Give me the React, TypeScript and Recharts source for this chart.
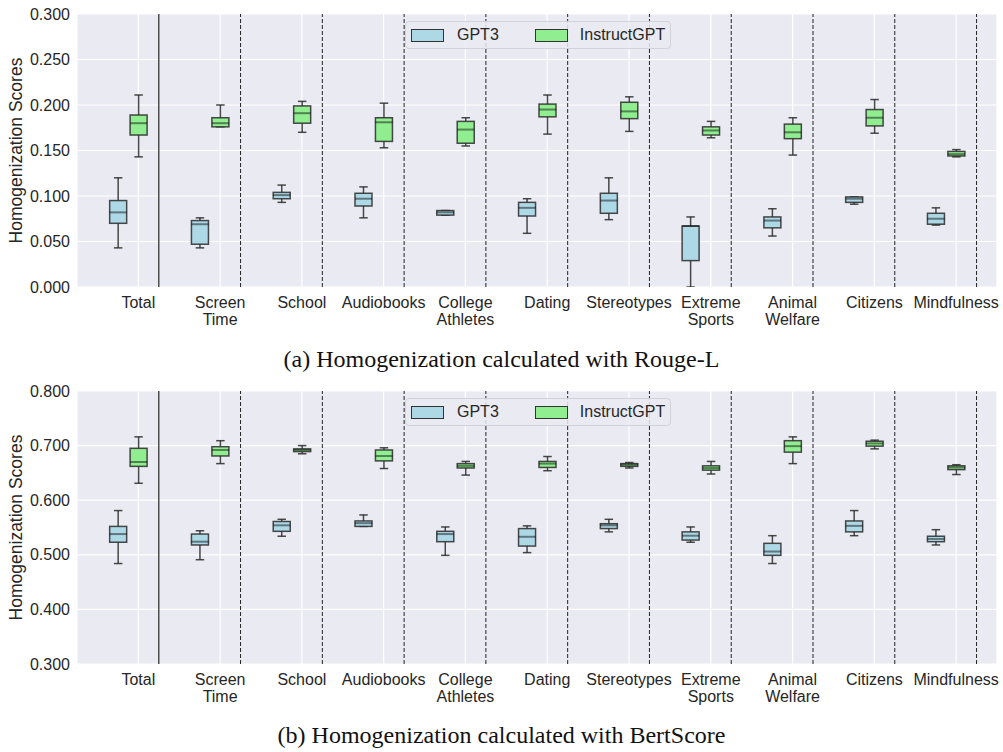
import React from 'react';
import {
  ComposedChart,
  Bar,
  XAxis,
  YAxis,
  CartesianGrid,
  ReferenceLine,
  Legend,
  Label,
} from 'recharts';

const categories = [
  'Total', 'Screen\nTime', 'School', 'Audiobooks', 'College\nAthletes', 'Dating',
  'Stereotypes', 'Extreme\nSports', 'Animal\nWelfare', 'Citizens', 'Mindfulness',
];

// each entry: [min, q1, median, q3, max]
const rougeGpt3 = [
  [0.043, 0.070, 0.082, 0.095, 0.120],
  [0.043, 0.047, 0.069, 0.073, 0.076],
  [0.093, 0.097, 0.101, 0.104, 0.112],
  [0.076, 0.089, 0.097, 0.103, 0.110],
  [0.079, 0.079, 0.082, 0.084, 0.084],
  [0.059, 0.078, 0.087, 0.093, 0.097],
  [0.074, 0.081, 0.095, 0.103, 0.120],
  [0.000, 0.029, 0.067, 0.067, 0.077],
  [0.056, 0.065, 0.073, 0.077, 0.086],
  [0.091, 0.093, 0.097, 0.099, 0.099],
  [0.068, 0.069, 0.075, 0.081, 0.087],
];

const rougeInstruct = [
  [0.143, 0.167, 0.180, 0.189, 0.211],
  [0.176, 0.176, 0.180, 0.186, 0.200],
  [0.170, 0.180, 0.191, 0.199, 0.204],
  [0.153, 0.160, 0.181, 0.186, 0.202],
  [0.155, 0.158, 0.173, 0.182, 0.186],
  [0.168, 0.187, 0.195, 0.201, 0.211],
  [0.171, 0.185, 0.193, 0.203, 0.209],
  [0.164, 0.167, 0.172, 0.176, 0.182],
  [0.145, 0.163, 0.170, 0.179, 0.186],
  [0.169, 0.177, 0.186, 0.195, 0.206],
  [0.143, 0.144, 0.146, 0.149, 0.151],
];

const bertGpt3 = [
  [0.484, 0.523, 0.538, 0.552, 0.581],
  [0.491, 0.518, 0.524, 0.538, 0.544],
  [0.534, 0.543, 0.554, 0.561, 0.565],
  [0.552, 0.552, 0.558, 0.562, 0.573],
  [0.499, 0.524, 0.538, 0.543, 0.551],
  [0.504, 0.516, 0.533, 0.548, 0.553],
  [0.542, 0.548, 0.554, 0.557, 0.565],
  [0.523, 0.527, 0.535, 0.542, 0.551],
  [0.484, 0.499, 0.506, 0.521, 0.535],
  [0.535, 0.542, 0.553, 0.562, 0.581],
  [0.518, 0.524, 0.529, 0.534, 0.546],
];

const bertInstruct = [
  [0.631, 0.662, 0.670, 0.695, 0.716],
  [0.667, 0.681, 0.692, 0.698, 0.709],
  [0.685, 0.689, 0.692, 0.694, 0.700],
  [0.658, 0.672, 0.681, 0.692, 0.696],
  [0.646, 0.659, 0.663, 0.667, 0.671],
  [0.654, 0.660, 0.667, 0.671, 0.680],
  [0.659, 0.662, 0.665, 0.667, 0.669],
  [0.648, 0.655, 0.659, 0.663, 0.671],
  [0.667, 0.688, 0.699, 0.709, 0.716],
  [0.694, 0.699, 0.704, 0.708, 0.710],
  [0.647, 0.656, 0.660, 0.663, 0.665],
];

const rougeTicks = [0, 0.05, 0.1, 0.15, 0.2, 0.25, 0.3];
const bertTicks = [0.3, 0.4, 0.5, 0.6, 0.7, 0.8];

const GPT3_FILL = '#ADD8E6';
const INSTRUCT_FILL = '#90EE90';
const FONT = '"Liberation Sans", Arial, sans-serif';
const TEXT = '#262626';

const xTicks = categories.map((_, i) => i * 4);
const dividers = categories.map((_, i) => i * 4 + 1);

function buildRows(gpt3: number[][], instruct: number[][]) {
  const rows: any[] = [];
  categories.forEach((_, i) => {
    rows.push({ x: i * 4 - 1, s: 'GPT3', v: gpt3[i] });
    rows.push({ x: i * 4, s: 'InstructGPT', v: instruct[i] });
  });
  return rows;
}

const BoxShape = (props: any) => {
  const { x, y, width, height, payload } = props;
  const [mn, q1, md, q3, mx] = payload.v;
  const py = (val: number) => y + ((mx - val) / (mx - mn)) * height;
  const cx = x + width / 2;
  const fill = payload.s === 'GPT3' ? GPT3_FILL : INSTRUCT_FILL;
  const line = { stroke: '#2a2a2a', strokeWidth: 1.5, strokeOpacity: 0.85 };
  const cap = width / 4;
  return (
    <g>
      <line x1={cx} x2={cx} y1={py(mx)} y2={py(q3)} {...line} />
      <line x1={cx} x2={cx} y1={py(q1)} y2={py(mn)} {...line} />
      <line x1={cx - cap} x2={cx + cap} y1={py(mx)} y2={py(mx)} {...line} />
      <line x1={cx - cap} x2={cx + cap} y1={py(mn)} y2={py(mn)} {...line} />
      <rect x={x} y={py(q3)} width={width} height={Math.max(py(q1) - py(q3), 0.5)} fill={fill} {...line} />
      <line x1={x} x2={x + width} y1={py(md)} y2={py(md)} stroke="#000" strokeOpacity={0.45} strokeWidth={2} />
    </g>
  );
};

const XTick = (props: any) => {
  const { x, y, payload } = props;
  const idx = Math.round(payload.value / 4);
  const lines = (categories[idx] || '').split('\n');
  return (
    <text x={x} y={y} textAnchor="middle" fontSize={16} fontFamily={FONT} fill={TEXT}>
      {lines.map((l, i) => (
        <tspan key={i} x={x} dy={i === 0 ? 21 : 17}>{l}</tspan>
      ))}
    </text>
  );
};

const LegendBox = () => (
  <div
    style={{
      display: 'flex',
      alignItems: 'center',
      width: 266,
      height: 28,
      boxSizing: 'border-box',
      background: 'rgba(234,234,242,0.85)',
      border: '1px solid #d2d2d8',
      borderRadius: 4,
      fontFamily: FONT,
      fontSize: 16,
      color: TEXT,
    }}
  >
    <span style={{ display: 'inline-block', width: 33, height: 13, background: GPT3_FILL, border: '1px solid #333', marginLeft: 5, boxSizing: 'border-box' }} />
    <span style={{ marginLeft: 13 }}>GPT3</span>
    <span style={{ display: 'inline-block', width: 33, height: 13, background: INSTRUCT_FILL, border: '1px solid #333', marginLeft: 36, boxSizing: 'border-box' }} />
    <span style={{ marginLeft: 12 }}>InstructGPT</span>
  </div>
);

function Panel({ gpt3, instruct, ticks }: { gpt3: number[][]; instruct: number[][]; ticks: number[] }) {
  const data = buildRows(gpt3, instruct);
  return (
    <ComposedChart width={1003} height={330} data={data} margin={{ top: 14, right: 6, left: 0, bottom: 0 }}>
      <CartesianGrid fill="#EAEAF2" stroke="#ffffff" strokeWidth={1.2} />
      <XAxis
        type="number"
        dataKey="x"
        domain={[-3, 42]}
        ticks={xTicks}
        interval={0}
        allowDataOverflow
        axisLine={false}
        tickLine={false}
        tickSize={0}
        tickMargin={0}
        height={43}
        tick={<XTick />}
      />
      <YAxis
        type="number"
        domain={[ticks[0], ticks[ticks.length - 1]]}
        ticks={ticks}
        interval={0}
        allowDataOverflow
        axisLine={false}
        tickLine={false}
        tickSize={0}
        tickMargin={7}
        width={77}
        tickFormatter={(v: number) => v.toFixed(3)}
        tick={{ fontSize: 16, fontFamily: FONT, fill: TEXT }}
      >
        <Label
          content={(p: any) => {
            const vb = p.viewBox || {};
            const cy = vb.y + vb.height / 2;
            return (
              <text x={22} y={cy} transform={`rotate(-90, 22, ${cy})`} textAnchor="middle" fontSize={17.5} fontFamily={FONT} fill={TEXT}>
                Homogenization Scores
              </text>
            );
          }}
        />
      </YAxis>
      {dividers.map((d, i) => (
        <ReferenceLine
          key={d}
          x={d}
          stroke={i === 0 ? '#444' : '#222'}
          strokeWidth={i === 0 ? 1.4 : 1}
          strokeDasharray={i === 0 ? undefined : '4 2'}
        />
      ))}
      <Bar
        dataKey={(d: any) => [d.v[0], d.v[4]]}
        barSize={17}
        shape={<BoxShape />}
        isAnimationActive={false}
      />
      <Legend
        layout="horizontal"
        verticalAlign="middle"
        align="center"
        content={() => <LegendBox />}
        wrapperStyle={{ left: 405, top: 21, width: 'auto' }}
      />
    </ComposedChart>
  );
}

const captionStyle: React.CSSProperties = {
  position: 'absolute',
  left: 0,
  width: 1003,
  textAlign: 'center',
  fontFamily: '"Liberation Serif", "Times New Roman", serif',
  fontSize: 24,
  lineHeight: '26px',
  color: '#111',
};

export default function App() {
  return (
    <div style={{ position: 'absolute', left: 0, top: 0, width: 1003, height: 752, background: '#fff' }}>
      <div style={{ position: 'absolute', left: 0, top: 0 }}>
        <Panel gpt3={rougeGpt3} instruct={rougeInstruct} ticks={rougeTicks} />
      </div>
      <div style={{ ...captionStyle, top: 346 }}>(a) Homogenization calculated with Rouge-L</div>
      <div style={{ position: 'absolute', left: 0, top: 377 }}>
        <Panel gpt3={bertGpt3} instruct={bertInstruct} ticks={bertTicks} />
      </div>
      <div style={{ ...captionStyle, top: 722 }}>(b) Homogenization calculated with BertScore</div>
    </div>
  );
}
